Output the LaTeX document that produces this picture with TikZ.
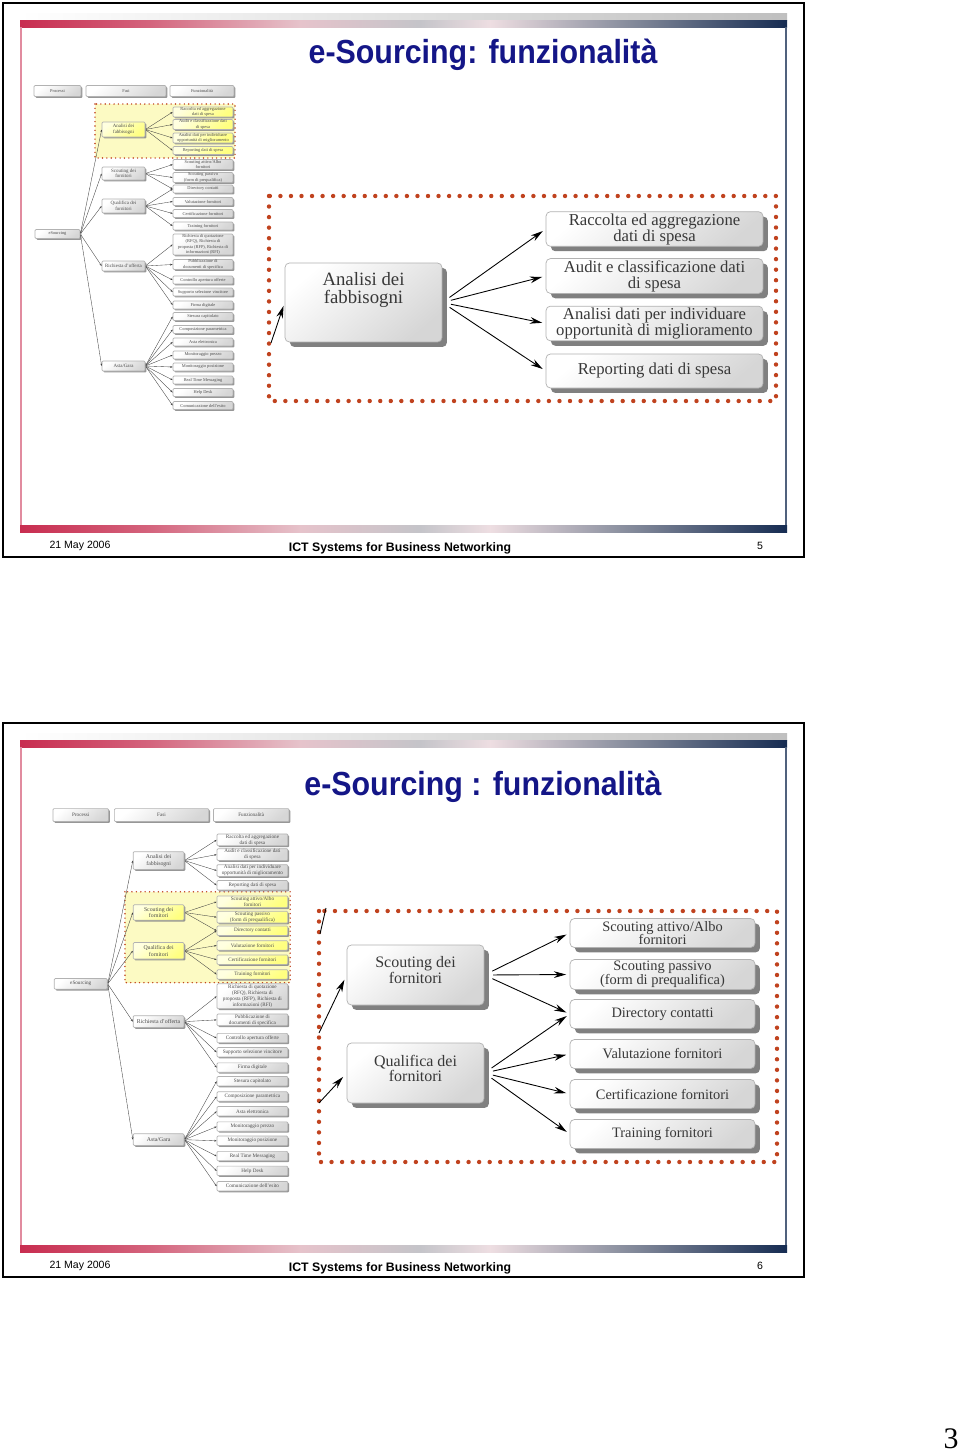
\documentclass[tikz,border=0pt]{standalone}
\usepackage{fontspec}
\setmainfont{Liberation Serif}
\newfontfamily\sansf{Liberation Sans}
\usepackage{tikz}
\usetikzlibrary{positioning,arrows.meta,shadows}

\definecolor{titleblue}{RGB}{20,22,135}
\definecolor{dotred}{RGB}{192,66,30}
\definecolor{hlyellow}{RGB}{252,250,195}
\definecolor{barA}{RGB}{200,45,80}
\definecolor{barB}{RGB}{212,100,125}
\definecolor{barC}{RGB}{230,195,203}
\definecolor{barD}{RGB}{196,196,201}
\definecolor{barE}{RGB}{238,222,226}
\definecolor{barF}{RGB}{140,145,160}
\definecolor{barG}{RGB}{22,44,82}

% frame, bars and footer of one slide
\newcommand{\slidechrome}[3]{%
  \begin{scope}[shift={(0,#2)}]
    \draw[line width=1.1pt] (3,3) rectangle (804,557);
    \shade[left color=white, right color=gray!50] (20,13) rectangle (787,20.5);
    \foreach \xa/\xb/\ca/\cb in {20/151/barA/barB, 150/301/barB/barC, 300/421/barC/barD,
                                 420/491/barD/barE, 490/621/barE/barF, 620/787/barF/barG} {
      \shade[left color=\ca, right color=\cb] (\xa,20.5) rectangle (\xb,27);
      \shade[left color=\ca, right color=\cb] (\xa,525) rectangle (\xb,532);
    }
    \draw[barA!55, line width=0.6pt] (21,27) -- (21,525);
    \draw[barG!75, line width=0.6pt] (786,27) -- (786,525);
    \node[footf] (#1date) at (80,546) {21 May 2006};
    \node[footb] (#1ict) at (400,548) {ICT Systems for Business Networking};
    \node[footf] (#1num) at (760,546) {#3};
  \end{scope}}

% small overview tree: #1 prefix, #2-#3 highlighted rows, #4-#5 zone top/bottom
\newcommand{\esourcingtree}[5]{%
  \draw[minidots] (95,#4) rectangle (235,#5);
  \node[mini, minimum width=0.94cm, minimum height=0.22cm] (#1hp) at (57.5,91) {Processi};
  \node[mini, minimum width=1.6cm, minimum height=0.22cm] (#1hf) at (126,91) {Fasi};
  \node[mini, minimum width=1.28cm, minimum height=0.22cm] (#1hz) at (202,91) {Funzionalità};
  \node[mini, minimum width=0.9cm, minimum height=0.18cm] (#1es) at (57.5,234) {eSourcing};
  % functionalities
  \foreach \n/\yy/\hh/\txt in {
      1/112/10/{Raccolta ed aggregazione\\dati di spesa},
      2/124.5/10/{Audit e classificazione dati\\di spesa},
      3/138/10/{Analisi dati per individuare\\opportunità di miglioramento},
      4/150.5/8/{Reporting dati di spesa},
      5/164.5/10/{Scouting attivo/Albo\\fornitori},
      6/177.5/10/{Scouting passivo\\(form di prequalifica)},
      7/189/8/{Directory contatti},
      8/201.5/8/{Valutazione fornitori},
      9/213.5/8/{Certificazione fornitori},
      10/226/8/{Training fornitori},
      11/244.5/21/{Richiesta di quotazione\\(RFQ), Richiesta di\\proposta (RFP), Richiesta di\\informazioni (RFI)},
      12/264.5/10/{Pubblicazione di\\documenti di specifica},
      13/280/8/{Controllo apertura offerte},
      14/292/8/{Supporto selezione vincitore},
      15/305/8/{Firma digitale},
      16/316.5/8/{Stesura capitolato},
      17/329.5/8/{Composizione parametrica},
      18/342/8/{Asta elettronica},
      19/355/8/{Monitoraggio prezzo},
      20/367/8/{Monitoraggio posizione},
      21/380/8/{Real Time Messaging},
      22/392.5/8/{Help Desk},
      23/405.5/8/{Comunicazione dell'esito}}{%
    \ifnum\n<#2 \def\ctop{white}\def\cbot{gray!32}\else
      \ifnum\n>#3 \def\ctop{white}\def\cbot{gray!32}\else\def\ctop{yellow!12}\def\cbot{yellow!50}\fi\fi
    \node[mini, top color=\ctop, bottom color=\cbot, shading angle=40,
          minimum width=1.2cm, minimum height=\hh*0.02cm] (#1f\n) at (203,\yy) {\txt};
  }
  % phases
  \foreach \a/\yy/\hh/\fr/\txt in {
      1/129.5/15/1/{Analisi dei\\fabbisogni},
      2/173.5/13/5/{Scouting dei\\fornitori},
      3/206/14/7/{Qualifica dei\\fornitori},
      4/266/10/11/{Richiesta d'offerta},
      5/366/10/16/{Asta/Gara}}{%
    \ifnum\fr<#2 \def\ctop{white}\def\cbot{gray!32}\else
      \ifnum\fr>#3 \def\ctop{white}\def\cbot{gray!32}\else\def\ctop{yellow!12}\def\cbot{yellow!50}\fi\fi
    \node[mini, top color=\ctop, bottom color=\cbot, shading angle=40, font=\fontsize{2.8}{3.2}\selectfont,
          minimum width=0.86cm, minimum height=\hh*0.02cm] (#1fa\a) at (123.5,\yy) {\txt};
  }
  \foreach \a in {1,...,5} \draw[miniarr] (#1es.east) -- (#1fa\a.west);
  \foreach \a/\lo/\hi in {1/1/4, 2/5/7, 3/7/10, 4/11/15, 5/16/23}
    \foreach \b in {\lo,...,\hi} \draw[miniarr] (#1fa\a.east) -- (#1f\b.west);
}

\begin{document}
\begin{tikzpicture}[x=0.02cm, y=-0.02cm,
    boxbase/.style={draw=gray!60, align=center, text=black!78,
                    top color=white, bottom color=gray!32, shading angle=40},
    bigbox/.style={boxbase, rounded corners=2.5pt, inner sep=1pt,
                   drop shadow={shadow xshift=2.8pt, shadow yshift=-2.8pt, fill=black!55, opacity=0.9}},
    bigtxt/.style={align=center, text=black!78, inner sep=0pt},
    rowa/.style={minimum width=4.34cm, minimum height=0.68cm, font=\fontsize{9.5}{9.1}\selectfont},
    rowb/.style={minimum width=3.7cm, minimum height=0.58cm, font=\fontsize{8.2}{7.8}\selectfont},
    mini/.style={boxbase, rounded corners=0.6pt, inner sep=0.2pt, text=black!70,
                 font=\fontsize{2.5}{2.95}\selectfont,
                 drop shadow={shadow xshift=0.8pt, shadow yshift=-0.8pt, fill=black!45, opacity=0.9}},
    arr/.style={-{Stealth[length=7pt,width=3.8pt]}, line width=0.5pt},
    miniarr/.style={-{Stealth[length=1.4pt,width=1pt]}, line width=0.2pt, black!75, shorten <=0.5pt},
    dotframe/.style={dotred, line width=2.5pt, line cap=round, dash pattern=on 0pt off 6pt},
    minidots/.style={dotred, fill=hlyellow, line width=0.9pt, line cap=round, dash pattern=on 0pt off 2.5pt},
    titlef/.style={font=\sansf\bfseries\fontsize{19}{22}\selectfont, text=titleblue},
    footf/.style={font=\sansf\fontsize{6}{7}\selectfont},
    footb/.style={font=\sansf\bfseries\fontsize{7}{8}\selectfont}
  ]
  \fill[white] (0,0) rectangle (960,1454);
  \useasboundingbox (0,0) rectangle (960,1454);

  % slide 5
  \slidechrome{a}{0}{5}
  \node[titlef] (t1) at (483,55) {\scalebox{0.91}[1]{e-Sourcing: funzionalità}};
  \esourcingtree{a}{1}{4}{104}{158}

  \draw[dotframe] (269,196) rectangle (776,401);
  \node[bigbox, minimum width=3.14cm, minimum height=1.58cm] (ana) at (363.5,302.5) {};
  \node[bigtxt, font=\fontsize{10.7}{10.3}\selectfont] (anat) at (363.5,290) {Analisi dei\\fabbisogni};
  \node[bigbox, rowa] (a1) at (654.5,229) {Raccolta ed aggregazione\\dati di spesa};
  \node[bigbox, rowa] (a2) at (654.5,276) {Audit e classificazione dati\\di spesa};
  \node[bigbox, rowa] (a3) at (654.5,323.5) {Analisi dati per individuare\\opportunità di miglioramento};
  \node[bigbox, rowa] (a4) at (654.5,371) {Reporting dati di spesa};
  \coordinate (ain) at (271,343);
  \draw[arr, shorten >=2pt] (ain) -- (ana.west);
  \foreach \n in {1,...,4} \draw[arr, shorten <=5pt, shorten >=2pt] (ana.east) -- (a\n.west);

  % slide 6
  \slidechrome{b}{720}{6}
  \node[titlef] (t2) at (483,787) {\scalebox{0.91}[1]{e-Sourcing : funzionalità}};
  \begin{scope}[shift={(12.88,707.7)}, scale=1.18, transform shape]
    \esourcingtree{b}{5}{10}{156}{233}
  \end{scope}

  \draw[dotframe] (319,911) rectangle (777,1162);
  \node[bigbox, minimum width=2.74cm, minimum height=1.2cm] (sco) at (415.5,975) {};
  \node[bigtxt, font=\fontsize{9.1}{9}\selectfont] (scot) at (415.5,970) {Scouting dei\\fornitori};
  \node[bigbox, minimum width=2.74cm, minimum height=1.2cm] (qua) at (415.5,1073) {};
  \node[bigtxt, font=\fontsize{9.1}{9}\selectfont] (quat) at (415.5,1068.5) {Qualifica dei\\fornitori};
  \node[bigbox, rowb] (b1) at (662.5,933) {Scouting attivo/Albo\\fornitori};
  \node[bigbox, rowb] (b2) at (662.5,974.5) {Scouting passivo\\(form di prequalifica)};
  \node[bigbox, rowb] (b3) at (662.5,1014) {Directory contatti};
  \node[bigbox, rowb] (b4) at (662.5,1054) {Valutazione fornitori};
  \node[bigbox, rowb] (b5) at (662.5,1094) {Certificazione fornitori};
  \node[bigbox, rowb] (b6) at (662.5,1134) {Training fornitori};
  \foreach \n in {1,2,3} \draw[arr, shorten <=5pt, shorten >=2pt] (sco.east) -- (b\n.west);
  \foreach \n in {3,...,6} \draw[arr, shorten <=5pt, shorten >=2pt] (qua.east) -- (b\n.west);
  \coordinate (bin1) at (319,1033);
  \coordinate (bin2) at (319,1103);
  \draw[arr, shorten >=3pt] (bin1) -- (sco.west);
  \draw[arr, shorten >=3pt] (bin2) -- (qua.west);
  \coordinate (stub1) at (320,934);
  \coordinate (stub2) at (326,908);
  \draw[line width=0.5pt] (stub1) -- (stub2);

  % page number
  \node[font=\fontsize{17}{18}\selectfont] (pg) at (951,1439) {3};
\end{tikzpicture}
\end{document}
